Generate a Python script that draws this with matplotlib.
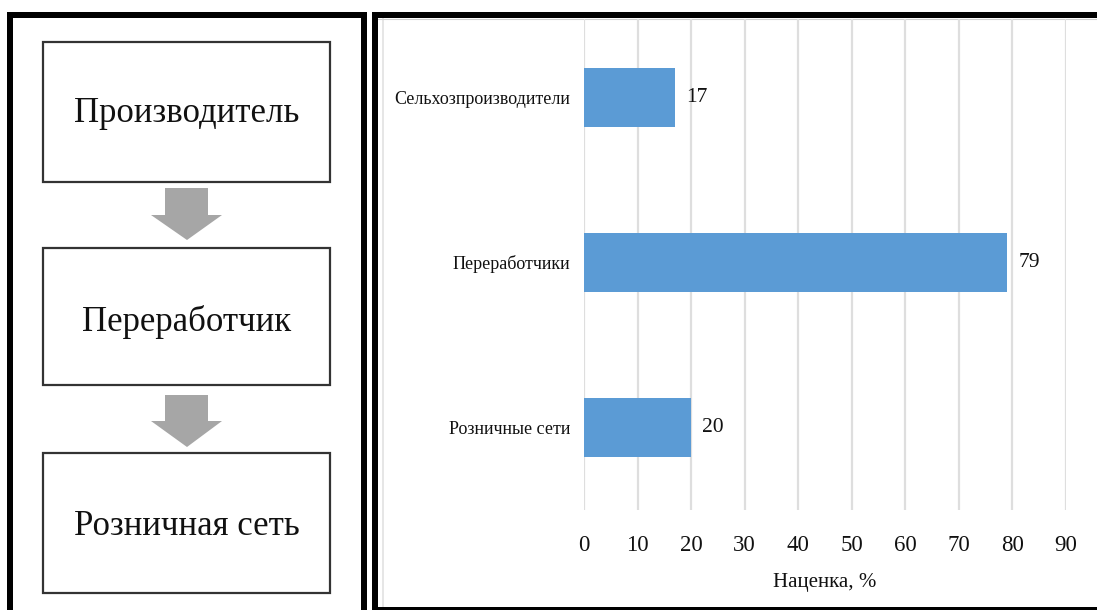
import matplotlib
matplotlib.use("Agg")
import matplotlib.pyplot as plt
from matplotlib.patches import Rectangle, Polygon

plt.rcParams['font.family'] = ['Liberation Serif', 'DejaVu Serif']

# Data
categories = ["Сельхозпроизводители", "Переработчики", "Розничные сети"]
markups = [17, 79, 20]
x_ticks = [0, 10, 20, 30, 40, 50, 60, 70, 80, 90]
x_label = "Наценка, %"
chain_steps = ["Производитель", "Переработчик", "Розничная сеть"]

W, H = 1097, 610
fig = plt.figure(figsize=(W / 100, H / 100), dpi=100)

# background / diagram axes in pixel coordinates
bg = fig.add_axes([0, 0, 1, 1])
bg.set_xlim(0, W)
bg.set_ylim(H, 0)
bg.axis('off')

def rect(ax, x0, y0, x1, y1, **kw):
    ax.add_patch(Rectangle((x0, y0), x1 - x0, y1 - y0, **kw))

# panel frames
for (x0, y0, x1, y1) in [(7, 12, 367, 18), (7, 12, 13, 612), (361, 12, 367, 612),
                         (372, 12, 1100, 18), (372, 12, 378, 612), (372, 607, 1100, 610)]:
    rect(bg, x0, y0, x1, y1, facecolor='black', edgecolor='none', zorder=5)
bg.plot([383, 383], [18, 607], color='#e2e2e2', lw=1.2, zorder=1)
bg.plot([378, 1100], [19, 19], color='#cfcfcf', lw=0.8, zorder=1)

# flow boxes
boxes = [(43, 42, 330, 182), (43, 248, 330, 385), (43, 453, 330, 593)]
baselines = [122, 331, 535]
for (x0, y0, x1, y1), label, bl in zip(boxes, chain_steps, baselines):
    rect(bg, x0, y0, x1, y1, facecolor='white', edgecolor='#333333', lw=1.6, zorder=2)
    bg.text((x0 + x1) / 2, bl, label, ha='center', va='baseline', fontsize=25,
            color='#111111', zorder=3)

# arrows
for top, head, tip in [(188, 215, 240), (395, 421, 447)]:
    pts = [(165, top), (208, top), (208, head), (222, head), (187, tip),
           (151, head), (165, head)]
    bg.add_patch(Polygon(pts, closed=True, facecolor='#a6a6a6', edgecolor='none', zorder=2))

# bar chart
left, right, top, bottom = 584, 1066, 19, 510
ax = fig.add_axes([left / W, 1 - bottom / H, (right - left) / W, (bottom - top) / H])
ax.set_facecolor('none')
ypos = list(range(len(categories)))
ax.barh(ypos, markups, height=0.36, color='#5b9bd5', zorder=3)
ax.set_xlim(0, 90)
ax.set_ylim(2.503, -0.478)
ax.set_xticks(x_ticks)
ax.set_xticklabels([str(t) for t in x_ticks], fontsize=16.5)
ax.set_yticks(ypos)
ax.set_yticklabels(categories, fontsize=13, color='#111111')
ax.tick_params(axis='x', length=0, pad=18, labelcolor='#111111')
ax.tick_params(axis='y', length=0, pad=10)
ax.grid(axis='x', color='#dedede', lw=1.6, zorder=0)
ax.grid(axis='y', visible=False)
for s in ax.spines.values():
    s.set_visible(False)
for y, v in zip(ypos, markups):
    ax.annotate(str(v), (v, y), xytext=(8, 0), textcoords='offset points',
                ha='left', va='center', fontsize=15.5, color='#111111')
ax.set_xlabel(x_label, fontsize=15, labelpad=12, color='#111111')

fig.savefig('out.png', dpi=100)
